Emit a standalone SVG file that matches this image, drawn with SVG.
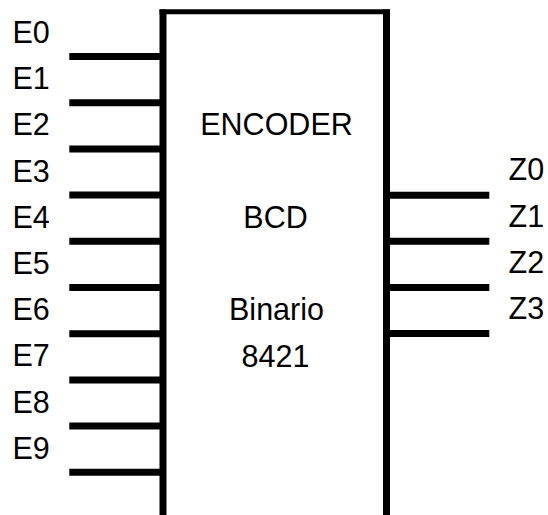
<svg xmlns="http://www.w3.org/2000/svg" width="548" height="515" viewBox="0 0 548 515">
<style>
.t{font-family:"Liberation Sans",Arial,sans-serif;font-size:30.5px;fill:#000}
.c{text-anchor:middle}
.w{stroke:#000;stroke-width:7;fill:none}
</style>
<rect width="548" height="515" fill="#fff"/>
<g id="encoder">
<path d="M163,515 V9.5 M386.5,9.5 V515" stroke="#000" stroke-width="7" fill="none"/>
<path d="M159.5,11.8 H390" stroke="#000" stroke-width="5" fill="none"/>
<text class="t c" x="276.5" y="135">ENCODER</text>
<text class="t c" x="275.5" y="228">BCD</text>
<text class="t c" x="276.5" y="319.5">Binario</text>
<text class="t c" x="275.5" y="366.5">8421</text>
</g>
<g id="connectors">
<path class="w" d="M69.3,56.5H160 M69.3,102.7H160 M69.3,148.9H160 M69.3,195.1H160 M69.3,241.3H160 M69.3,287.5H160 M69.3,333.7H160 M69.3,379.9H160 M69.3,426.1H160 M69.3,472.3H160"/>
<path class="w" d="M390,195.3H489.3 M390,241.3H489.3 M390,287.5H489.3 M390,333.5H489.3"/>
</g>
<g id="inputs">
<text class="t" x="12.5" y="43">E0</text>
<text class="t" x="12.5" y="89.2">E1</text>
<text class="t" x="12.5" y="135.4">E2</text>
<text class="t" x="12.5" y="181.6">E3</text>
<text class="t" x="12.5" y="227.8">E4</text>
<text class="t" x="12.5" y="274">E5</text>
<text class="t" x="12.5" y="320.2">E6</text>
<text class="t" x="12.5" y="366.4">E7</text>
<text class="t" x="12.5" y="412.6">E8</text>
<text class="t" x="12.5" y="458.6">E9</text>
</g>
<g id="outputs">
<text class="t" x="508.5" y="180">Z0</text>
<text class="t" x="508.5" y="226.5">Z1</text>
<text class="t" x="508.5" y="272.8">Z2</text>
<text class="t" x="508.5" y="318.5">Z3</text>
</g>
</svg>
